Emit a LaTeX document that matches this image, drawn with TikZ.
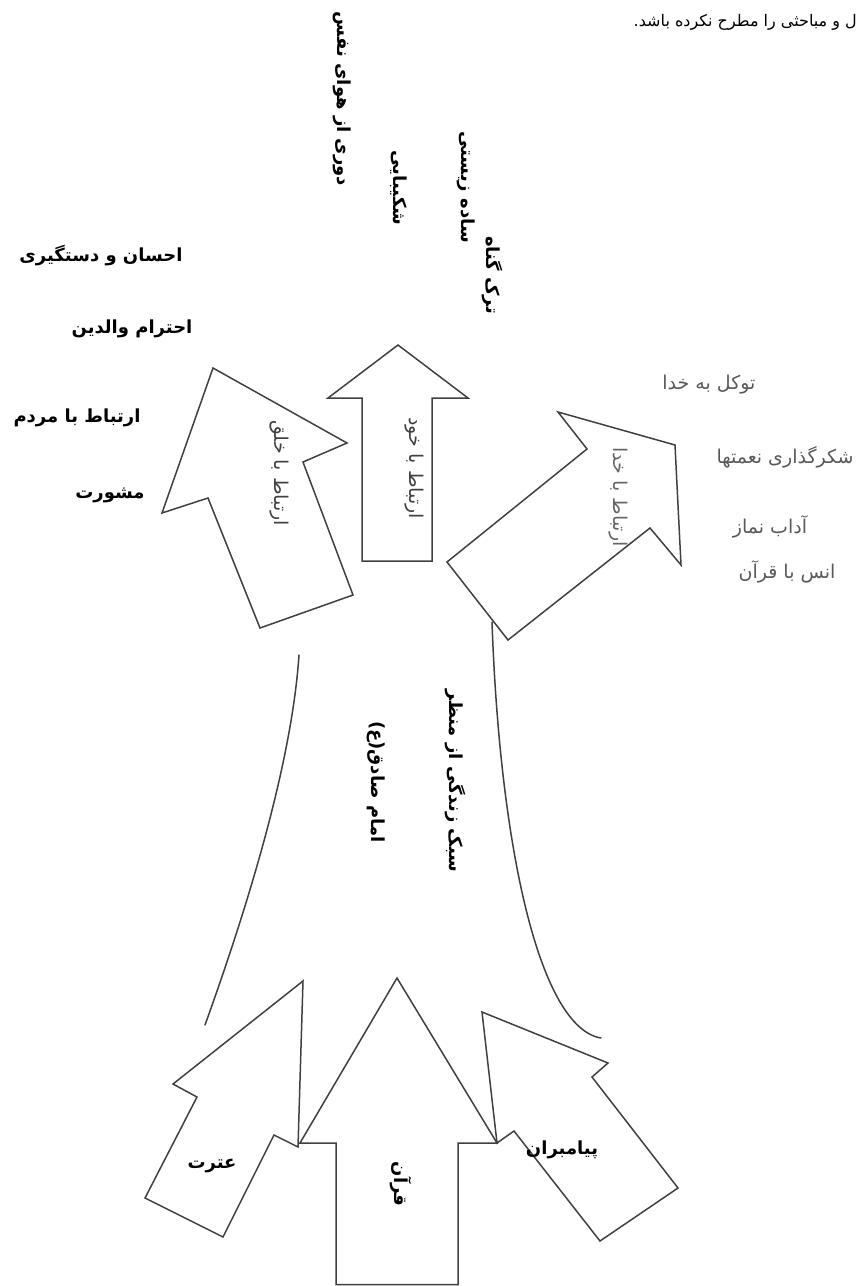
\documentclass[tikz,border=0pt]{standalone}
\usepackage{fontspec}
\usepackage{tikz}
\usetikzlibrary{positioning}
\TeXXeTstate=1
\newfontfamily\fafont[Script=Arabic]{DejaVu Sans}
\newcommand{\fatext}[1]{{\beginR #1\endR}}

\tikzset{
    shape line/.style={draw=black!75, line width=1.5pt, line join=miter},
    side label/.style={font=\fafont\bfseries\fontsize{18}{20}\selectfont, inner sep=0pt},
    up label/.style={side label, rotate=-90},
    god label/.style={font=\fafont\fontsize{19}{21}\selectfont, text=black!65, inner sep=0pt},
    in label/.style={font=\fafont\fontsize{19}{21}\selectfont, text=black!75, rotate=-90, inner sep=0pt}
}

\begin{document}
\begin{tikzpicture}[x=1pt, y=-1pt, line cap=round]
\useasboundingbox (0,0) rectangle (858,1286);

% running text of the page
\node[anchor=east, font=\fafont\fontsize{16}{18}\selectfont, inner sep=0pt] (toptext) at (857,22) {\fatext{ل و مباحثی را مطرح نکرده باشد.}};

% Upper arrows
\draw[shape line] (213,368) -- (347,443) -- (303,462) -- (353,595) -- (260,628) -- (208,498) -- (162,513) -- cycle;
\draw[shape line] (398,345) -- (468,398) -- (432,398) -- (432,561) -- (362,561) -- (362,398) -- (328,398) -- cycle;
\draw[shape line] (675,445) -- (681,565) -- (650,528) -- (508,640) -- (447,562) -- (587,449) -- (558,412) -- cycle;

% Lower arrows
\draw[shape line] (303,981) -- (298,1147) -- (274,1135) -- (223,1237) -- (145,1198) -- (197,1097) -- (173,1084) -- cycle;
\draw[shape line] (397,978) -- (497,1143) -- (458,1143) -- (458,1284.5) -- (336,1284.5) -- (336,1143) -- (300,1143) -- cycle;
\draw[shape line] (482,1012) -- (608,1063) -- (592,1077) -- (678,1188) -- (600,1241) -- (514,1131) -- (497,1143) -- cycle;

% Trunk
\draw[shape line] (299,655) .. controls (292,760) and (250,900) .. (205,1025);
\draw[shape line] (492,622) .. controls (500,850) and (540,1028) .. (601,1038);

% Labels: people
\node[side label] (ehsan) at (101,256) {\fatext{احسان و دستگیری}};
\node[side label] (parents) at (132,329) {\fatext{احترام والدین}};
\node[side label] (people) at (77,418) {\fatext{ارتباط با مردم}};
\node[side label] (counsel) at (110,495) {\fatext{مشورت}};

% Labels: self
\node[up label] (nafs) at (342,99) {\fatext{دوری از هوای نفس}};
\node[up label] (sabr) at (399,188) {\fatext{شکیبایی}};
\node[up label] (simple) at (466,187) {\fatext{ساده زیستی}};
\node[up label] (sin) at (492,275) {\fatext{ترک گناه}};

% Labels: God
\node[god label] (tawakkul) at (709,385) {\fatext{توکل به خدا}};
\node[god label] (shukr) at (785,457) {\fatext{شکرگذاری نعمتها}};
\node[god label] (salat) at (770,527) {\fatext{آداب نماز}};
\node[god label] (uns) at (787,572) {\fatext{انس با قرآن}};

% Inside the arrows
\node[in label] (khalq) at (279,473) {\fatext{ارتباط با خلق}};
\node[in label] (khod) at (414,468) {\fatext{ارتباط با خود}};
\node[in label, text=black!60] (khoda) at (618,497) {\fatext{ارتباط با خدا}};
\node[up label] (style) at (455,781) {\fatext{سبک زندگی از منظر}};
\node[up label] (imam) at (376,782) {\fatext{امام صادق(ع)}};
\node[up label] (quran) at (401,1184) {\fatext{قرآن}};
\node[side label] (itrat) at (212,1166) {\fatext{عترت}};
\node[side label] (prophets) at (562,1150) {\fatext{پیامبران}};
\end{tikzpicture}
\end{document}
